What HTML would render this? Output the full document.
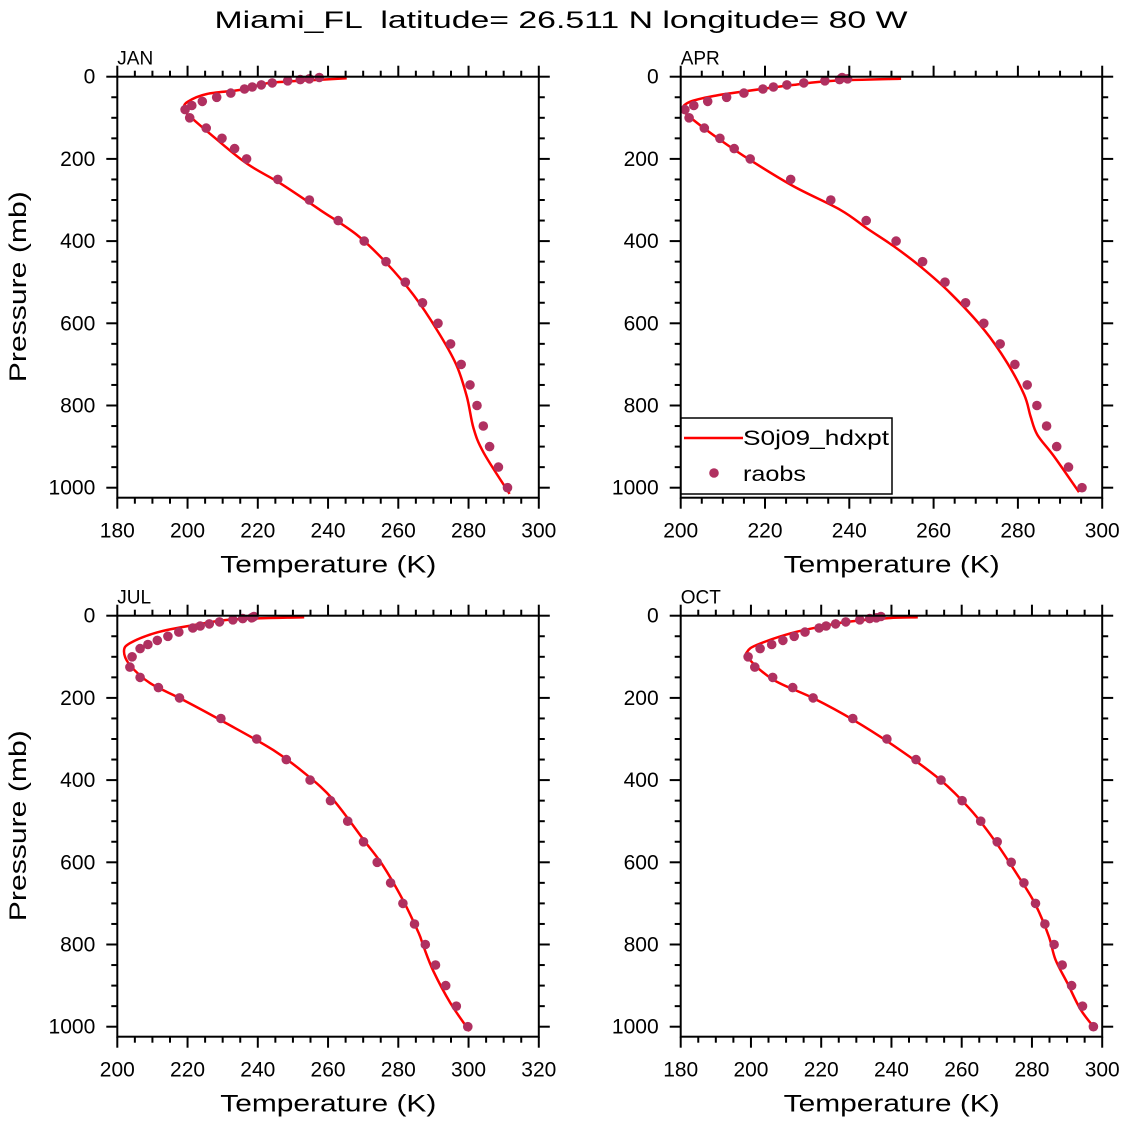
<!DOCTYPE html>
<html><head><meta charset="utf-8"><style>
html,body{margin:0;padding:0;background:#fff;}
svg{display:block;font-family:"Liberation Sans",sans-serif;}
</style></head><body>
<svg id="fig" width="1126" height="1122" viewBox="0 0 1126 1122">
<text x="561" y="28" text-anchor="middle" font-size="24" textLength="693" lengthAdjust="spacingAndGlyphs" style="white-space:pre" xml:space="preserve">Miami_FL  latitude= 26.511 N longitude= 80 W</text>
</svg>
<script>
// pressure levels of raobs (mb)
const obsP = [1000,950,900,850,800,750,700,650,600,550,500,450,400,350,300,250,200,175,150,125,100,80,70,60,50,40,30,25,20,15,10,7,5,2];
const janObsT = [291.1,288.5,286.0,284.2,282.4,280.4,277.9,274.9,271.3,266.9,262.0,256.5,250.3,242.9,234.7,225.7,216.8,213.4,209.8,205.3,200.6,199.3,201.2,204.2,208.3,212.3,216.2,218.4,221.0,224.1,228.5,232.1,234.7,237.5];
const aprObsT = [295.2,292.0,289.2,286.8,284.5,282.2,279.3,275.8,271.9,267.6,262.7,257.4,251.1,244.0,235.6,226.1,216.5,212.7,209.3,205.6,202.0,201.0,203.1,206.4,210.9,215.0,219.5,222.0,225.2,229.2,234.2,237.7,239.6,238.3];
const julObsT = [299.8,296.5,293.5,290.6,287.7,284.6,281.3,277.8,274.0,270.1,265.6,260.7,254.9,248.1,239.7,229.5,217.7,211.7,206.5,203.6,204.2,206.5,208.7,211.4,214.4,217.5,221.5,223.6,226.2,229.1,232.9,235.7,238.3,238.9];
const octObsT = [297.5,294.4,291.3,288.6,286.3,283.7,281.0,277.7,274.1,270.1,265.4,260.1,254.1,247.0,238.7,229.0,217.7,211.9,206.2,201.1,199.2,202.6,205.9,209.1,212.3,215.4,219.4,221.4,224.1,227.0,231.0,233.8,235.7,237.0];
// model profiles
const janModP = [1015,915,855,778,701,616,531,454,385,324,259,211,146,93,77,61,42,32,16,10,4];
const janModT = [291.7,284.3,281.4,279.5,276.5,271.0,264.3,256.7,248.2,237.7,226.3,216.8,207.4,200.2,199.0,200.0,205.5,215.0,222.5,232.0,245.3];
const aprModP = [1011,924,871,826,774,697,616,527,462,413,369,324,267,203,154,105,79,61,47,36,20,10,5];
const aprModT = [294.5,288.6,284.6,283.0,281.5,277.5,272.0,264.0,256.9,250.6,244.2,237.9,226.8,216.5,209.4,203.0,200.5,202.2,207.8,214.9,226.8,236.3,252.3];
const julModP = [1011,942,865,805,772,695,610,545,448,387,327,262,205,164,120,87,67,41,23,9,4];
const julModT = [300.3,294.8,290.0,287.2,285.8,281.5,275.8,270.1,261.5,253.9,244.4,231.1,218.8,209.3,203.6,201.9,203.6,211.2,221.7,233.0,253.2];
const octModP = [1007,959,894,837,780,703,643,545,472,400,327,254,201,156,104,87,71,43,27,15,6,4];
const octModT = [298.2,293.9,290.1,286.7,284.8,281.0,276.8,269.2,262.5,254.0,242.5,229.2,217.8,206.4,199.3,199.0,201.7,211.2,219.7,227.3,238.7,247.5];
const janXTicks = [180,200,220,240,260,280,300];
const aprXTicks = [200,220,240,260,280,300];
const julXTicks = [200,220,240,260,280,300,320];
const octXTicks = [180,200,220,240,260,280,300];
const yTicks = [0,200,400,600,800,1000];

const NS = "http://www.w3.org/2000/svg";
const svg = document.getElementById('fig');
function mk(tag, attrs, parent){
  const e = document.createElementNS(NS, tag);
  for (const k in attrs) e.setAttribute(k, attrs[k]);
  (parent||svg).appendChild(e);
  return e;
}
function smoothPath(pts){
  let d = 'M' + pts[0][0].toFixed(1) + ' ' + pts[0][1].toFixed(1);
  for (let i = 0; i < pts.length - 1; i++){
    const p0 = pts[Math.max(0,i-1)], p1 = pts[i], p2 = pts[i+1], p3 = pts[Math.min(pts.length-1,i+2)];
    const c1x = p1[0] + (p2[0]-p0[0])/6, c1y = p1[1] + (p2[1]-p0[1])/6;
    const c2x = p2[0] - (p3[0]-p1[0])/6, c2y = p2[1] - (p3[1]-p1[1])/6;
    d += ' C' + c1x.toFixed(1)+' '+c1y.toFixed(1)+' '+c2x.toFixed(1)+' '+c2y.toFixed(1)+' '+p2[0].toFixed(1)+' '+p2[1].toFixed(1);
  }
  return d;
}
function panel(name, left, top, xmin, xmax, xTicks, obsT, modP, modT, showYTitle, legend){
  const W = 421.5, p1000 = 411, H = 421;
  const g = mk('g', {});
  
  
  const xs = t => left + (t - xmin) / (xmax - xmin) * W;
  const ys = p => top + p / 1000 * p1000;
  const pts = modT.map((t,i)=>[xs(t), ys(modP[i])]);
  const line = mk('path', {d:smoothPath(pts), fill:'none', stroke:'#ff0000', 'stroke-width':2.5, 'stroke-linejoin':'round'}, g);
  
  
  obsT.forEach((t,i)=>{
    const c = mk('circle', {cx:xs(t).toFixed(1), cy:ys(obsP[i]).toFixed(1), r:4.8, fill:'#b03060'}, g);
    
    
  });
  const box = mk('rect', {x:left, y:top, width:W, height:H, fill:'none', stroke:'#000', 'stroke-width':2}, g);
  
  
  for (let t = xmin; t <= xmax + 0.01; t += 5){
    const major = (t % 20 === 0);
    const L = major ? 11 : 6;
    const x = xs(t);
    mk('line', {x1:x, x2:x, y1:top+H, y2:top+H+L, stroke:'#000', 'stroke-width':2}, g);
    mk('line', {x1:x, x2:x, y1:top, y2:top-L, stroke:'#000', 'stroke-width':2}, g);
  }
  xTicks.forEach(t=>{
    const lab = mk('text', {x:xs(t), y:top+H+40, 'text-anchor':'middle', 'font-size':21, textLength:35, lengthAdjust:'spacingAndGlyphs'}, g);
    lab.textContent = t;
    
    
  });
  for (let p = 0; p <= 1000; p += 50){
    const major = (p % 200 === 0);
    const L = major ? 11 : 6;
    const y = ys(p);
    mk('line', {x1:left, x2:left-L, y1:y, y2:y, stroke:'#000', 'stroke-width':2}, g);
    mk('line', {x1:left+W, x2:left+W+L, y1:y, y2:y, stroke:'#000', 'stroke-width':2}, g);
  }
  yTicks.forEach(p=>{
    const s = String(p);
    const lab = mk('text', {x:left-22, y:ys(p)+7, 'text-anchor':'end', 'font-size':21, textLength:11.7*s.length, lengthAdjust:'spacingAndGlyphs'}, g);
    lab.textContent = s;
    
    
  });
  const pl = mk('text', {x:left, y:top-12, 'font-size':19}, g);
  pl.textContent = name.toUpperCase();
  
  
  const xt = mk('text', {x:left+211, y:top+H+75, 'text-anchor':'middle', 'font-size':24, textLength:216, lengthAdjust:'spacingAndGlyphs'}, g);
  xt.textContent = 'Temperature (K)';
  
  
  if (showYTitle){
    const cy = top + 210;
    const yt = mk('text', {x:26, y:cy, transform:'rotate(-90 26 '+cy+')', 'text-anchor':'middle', 'font-size':24, textLength:191, lengthAdjust:'spacingAndGlyphs'}, g);
    yt.textContent = 'Pressure (mb)';
    
    
  }
  if (legend){
    const lg = mk('g', {}, g);
    
    
    mk('rect', {x:681, y:418, width:211, height:76, fill:'#fff', stroke:'#000', 'stroke-width':1.5}, lg);
    mk('line', {x1:684, x2:743, y1:438, y2:438, stroke:'#ff0000', 'stroke-width':2.5}, lg);
    const t1 = mk('text', {x:743, y:445, 'font-size':21, textLength:146, lengthAdjust:'spacingAndGlyphs'}, lg);
    t1.textContent = 'S0j09_hdxpt';
    
    
    mk('circle', {cx:714, cy:473, r:4.8, fill:'#b03060'}, lg);
    const t2 = mk('text', {x:743, y:481, 'font-size':21, textLength:63, lengthAdjust:'spacingAndGlyphs'}, lg);
    t2.textContent = 'raobs';
    
    
  }
}
panel('jan', 117.3, 76.7, 180, 300, janXTicks, janObsT, janModP, janModT, true, false);
panel('apr', 680.7, 76.7, 200, 300, aprXTicks, aprObsT, aprModP, aprModT, false, true);
panel('jul', 117.3, 615.7, 200, 320, julXTicks, julObsT, julModP, julModT, true, false);
panel('oct', 680.7, 615.7, 180, 300, octXTicks, octObsT, octModP, octModT, false, false);
</script>
</body></html>
